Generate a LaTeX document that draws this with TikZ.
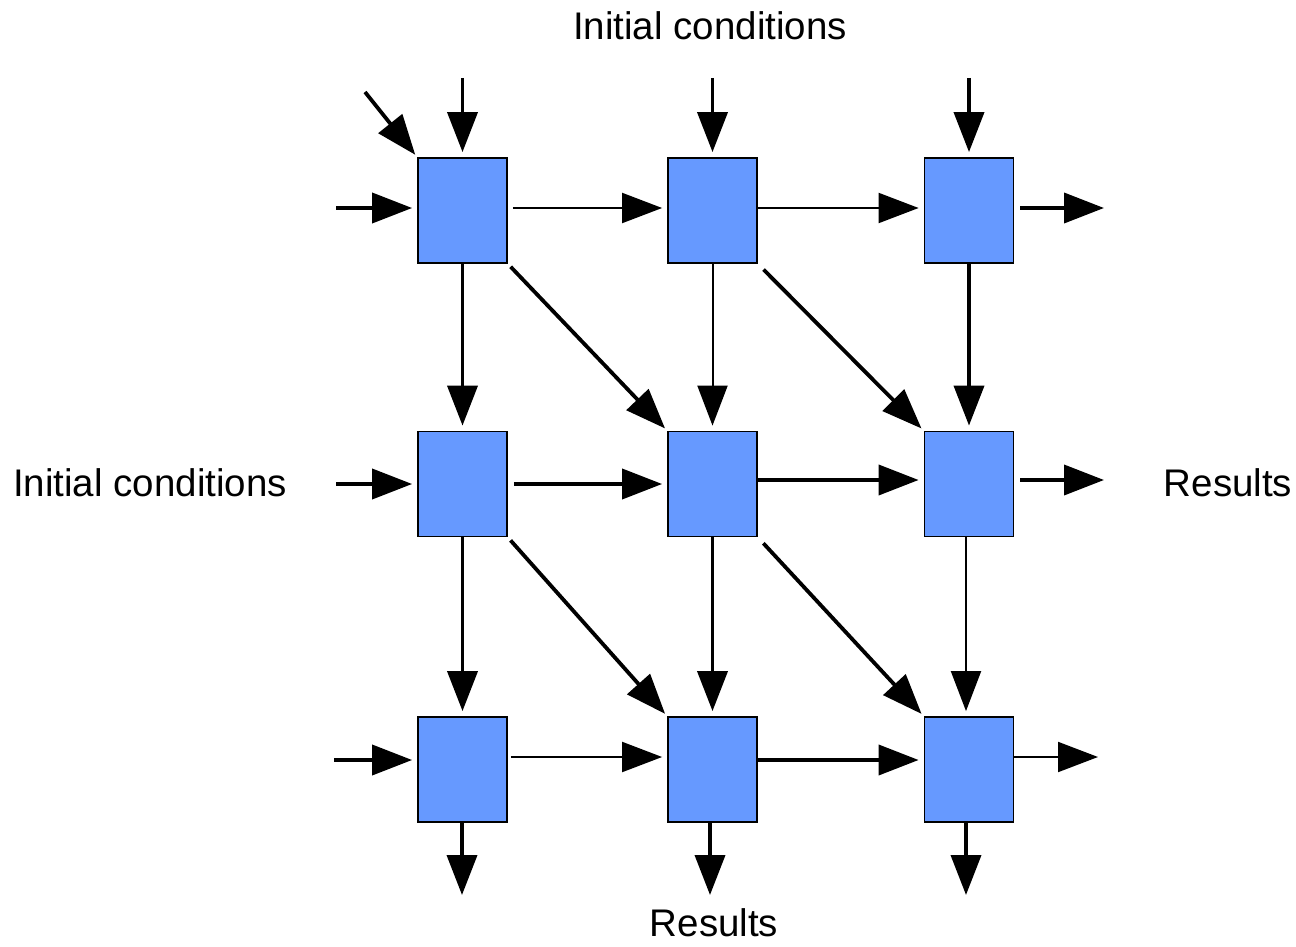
\documentclass[tikz,border=0pt]{standalone}
\usepackage{fontspec}
\setmainfont{Liberation Sans}
\usetikzlibrary{arrows.meta}
\definecolor{boxblue}{HTML}{6699FF}
\begin{document}
\begin{tikzpicture}[x=1pt,y=-1pt,
  cell/.style={draw=black,fill=boxblue,line width=1.8pt,minimum width=89pt,minimum height=105pt,inner sep=0pt},
  arr/.style={-{Triangle[length=40pt,width=30pt]},shorten >=5pt},
  thickline/.style={arr,line width=3.8pt},
  thinline/.style={arr,line width=2pt},
  lbl/.style={font=\fontsize{38.5}{40}\selectfont,inner sep=0pt}]
\useasboundingbox (0,0) rectangle (1296,947);
% cells
\node[cell] (b11) at (462.5,210.5) {};
\node[cell] (b12) at (712.5,210.5) {};
\node[cell] (b13) at (969,210.5) {};
\node[cell] (b21) at (462.5,484) {};
\node[cell] (b22) at (712.5,484) {};
\node[cell] (b23) at (969,484) {};
\node[cell] (b31) at (462.5,769.5) {};
\node[cell] (b32) at (712.5,769.5) {};
\node[cell] (b33) at (969,769.5) {};
% labels
\node[lbl] (ltop) at (710,26) {Initial conditions};
\node[lbl] (lleft) at (150,483) {Initial conditions};
\node[lbl] (lright) at (1228,483) {Results};
\node[lbl] (lbot) at (714,923) {Results};
% free ends
\coordinate (t1) at (462.5,78);
\coordinate (t2) at (712.5,78);
\coordinate (t3) at (969,78);
\coordinate (td) at (365,92);
\coordinate (l1) at (336,208);
\coordinate (l2) at (336,484);
\coordinate (l3) at (334,760);
\coordinate (r1) at (1104,208);
\coordinate (r2) at (1104,480);
\coordinate (r3) at (1098,757);
\coordinate (d1) at (462,895);
\coordinate (d2) at (710,895);
\coordinate (d3) at (966,895);
% inputs
\draw[thickline] (t1) -- (b11.north);
\draw[thickline] (t2) -- (b12.north);
\draw[thickline] (t3) -- (b13.north);
\draw[thickline,shorten >=3pt] (td) -- (b11.north west);
\draw[thickline] (l1) -- (b11.west |- l1);
\draw[thickline] (l2) -- (b21.west |- l2);
\draw[thickline] (l3) -- (b31.west |- l3);
% row links
\draw[thinline,shorten <=5pt] (b11.east |- l1) -- (b12.west |- l1);
\draw[thinline] (b12.east |- l1) -- (b13.west |- l1);
\draw[thickline,shorten <=6pt] (b21.east |- l2) -- (b22.west |- l2);
\draw[thickline] (b22.east |- r2) -- (b23.west |- r2);
\draw[thinline,shorten <=3pt] (b31.east |- r3) -- (b32.west |- r3);
\draw[thickline] (b32.east |- l3) -- (b33.west |- l3);
% outputs right
\draw[thickline,shorten <=6pt,shorten >=0pt] (b13.east |- r1) -- (r1);
\draw[thickline,shorten <=6pt,shorten >=0pt] (b23.east |- r2) -- (r2);
\draw[thinline,shorten >=0pt] (b33.east |- r3) -- (r3);
% verticals
\draw[thickline] (b11.south) -- (b21.north);
\draw[thickline] (b21.south) -- (b31.north);
\draw[thinline] (b12.south) -- (b22.north);
\draw[thickline] (b22.south) -- (b32.north);
\draw[thickline] (b13.south) -- (b23.north);
\draw[thinline] (b23.south -| d3) -- (b33.north -| d3);
% outputs bottom
\draw[thickline,shorten >=0pt] (b31.south -| d1) -- (d1);
\draw[thickline,shorten >=0pt] (b32.south -| d2) -- (d2);
\draw[thickline,shorten >=0pt] (b33.south -| d3) -- (d3);
% diagonals
\draw[thickline,shorten <=4pt,shorten >=3pt] (b11.south east) -- (b22.north west);
\draw[thickline,shorten <=8pt,shorten >=3pt] (b12.south east) -- (b23.north west);
\draw[thickline,shorten <=4pt,shorten >=3pt] (b21.south east) -- (b32.north west);
\draw[thickline,shorten <=8pt,shorten >=3pt] (b22.south east) -- (b33.north west);
\end{tikzpicture}
\end{document}
